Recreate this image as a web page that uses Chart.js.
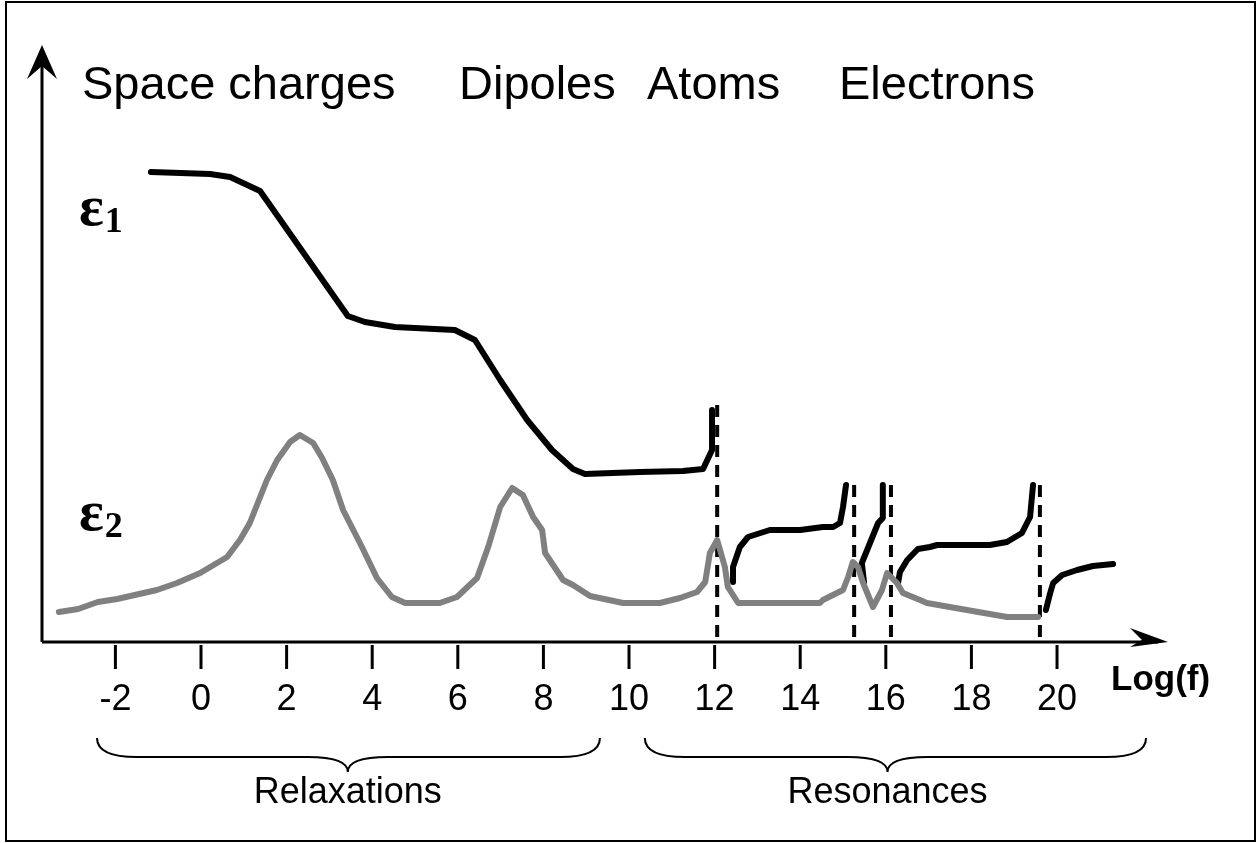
<!DOCTYPE html>
<html>
<head>
<meta charset="utf-8">
<script src="https://cdn.jsdelivr.net/npm/chart.js@4.4.1/dist/chart.umd.min.js"></script>
<style>
  html, body { margin: 0; padding: 0; background: #fff; }
  canvas { display: block; }
</style>
</head>
<body>
<canvas id="chart" width="1260" height="843"></canvas>
<script>
// log(f) and relative amplitude (arbitrary units)
const eps1Relax = [[-1.17, 468], [0.21, 466], [0.68, 463], [1.38, 449], [3.43, 324], [3.83, 318],
  [4.53, 313], [5.93, 310], [6.4, 300], [6.99, 260], [7.62, 220], [8.2, 190], [8.69, 171],
  [8.97, 166], [10.26, 168], [11.26, 169], [11.73, 171], [11.94, 190], [11.94, 230]];
const eps1Ionic = [[12.43, 58], [12.43, 73], [12.59, 93], [12.78, 103], [13.29, 110], [14.0, 110],
  [14.53, 113], [14.77, 113], [14.93, 117], [15.0, 133], [15.07, 155]];
const eps1Elec1 = [[15.49, 58], [15.44, 77], [15.63, 97], [15.82, 117], [15.93, 122], [15.93, 155]];
const eps1Elec2 = [[16.29, 58], [16.33, 68], [16.5, 80], [16.75, 91], [17.03, 93], [17.2, 95],
  [18.43, 95], [18.83, 98], [19.18, 107], [19.37, 123], [19.44, 155]];
const eps1Tail = [[19.74, 30], [19.84, 47], [19.91, 57], [20.12, 65], [20.47, 70], [20.84, 74], [21.31, 76]];

const eps2 = [[-3.32, 28], [-2.87, 31], [-2.41, 38], [-1.96, 41], [-1.03, 50], [-0.56, 57], [-0.02, 67],
  [0.61, 83], [0.91, 100], [1.14, 117], [1.54, 160], [1.78, 180], [2.08, 198], [2.31, 205],
  [2.62, 197], [2.83, 182], [3.08, 160], [3.32, 130], [3.76, 93], [4.11, 62], [4.46, 43],
  [4.77, 37], [5.58, 37], [5.98, 43], [6.45, 62], [6.71, 93], [6.99, 133], [7.27, 152],
  [7.52, 145], [7.76, 123], [7.97, 110], [8.04, 87], [8.46, 60], [8.69, 55], [9.09, 44],
  [9.86, 37], [10.72, 37], [11.19, 42], [11.59, 48], [11.78, 58], [11.89, 87], [12.06, 100],
  [12.24, 73], [12.31, 53], [12.55, 37], [14.46, 37], [14.53, 40], [15.0, 50], [15.12, 63],
  [15.23, 78], [15.35, 73], [15.47, 57], [15.7, 33], [15.91, 50], [16.03, 67], [16.26, 57],
  [16.4, 47], [16.8, 40], [16.96, 37], [18.83, 23], [19.56, 23]];

const resonanceLines = [12.06, 15.26, 16.12, 19.6];
const resonanceTops = [237, 158, 158, 158];

const tickValues = [-2, 0, 2, 4, 6, 8, 10, 12, 14, 16, 18, 20];
const mechanisms = ["Space charges", "Dipoles", "Atoms", "Electrons"];
const groupNames = ["Relaxations", "Resonances"];
const groupFrom = [-2.43, 10.37];
const groupTo = [9.32, 22.08];
const groupMid = [3.43, 16.04];

const toXY = (pts) => pts.map((p) => ({ x: p[0], y: p[1] }));

const solid = (pts, color) => ({
  data: toXY(pts),
  borderColor: color,
  borderWidth: 6,
  pointRadius: 0,
  showLine: true,
  tension: 0,
  borderCapStyle: "round",
  borderJoinStyle: "round",
});

const datasets = [
  solid(eps2, "#808080"),
  solid(eps1Relax, "#000"),
  solid(eps1Ionic, "#000"),
  solid(eps1Elec1, "#000"),
  solid(eps1Elec2, "#000"),
  solid(eps1Tail, "#000"),
];
resonanceLines.forEach((x, i) => {
  datasets.push({
    data: [{ x: x, y: 3 }, { x: x, y: resonanceTops[i] }],
    borderColor: "#000",
    borderWidth: 4,
    borderDash: [12, 8],
    pointRadius: 0,
    showLine: true,
  });
});

// axes, arrows, tick labels, braces and captions
const decorations = {
  id: "decorations",
  afterDraw(chart) {
    const ctx = chart.ctx;
    const xs = chart.scales.x;
    const area = chart.chartArea;
    const axisY = area.bottom + 2;
    ctx.save();

    ctx.strokeStyle = "#000";
    ctx.lineWidth = 2;
    ctx.strokeRect(6, 2, 1249, 839);

    // y axis with arrow
    ctx.lineWidth = 3;
    ctx.beginPath();
    ctx.moveTo(area.left, axisY);
    ctx.lineTo(area.left, 60);
    ctx.stroke();
    ctx.fillStyle = "#000";
    ctx.beginPath();
    ctx.moveTo(area.left, 45);
    ctx.lineTo(area.left - 15, 79);
    ctx.lineTo(area.left, 66);
    ctx.lineTo(area.left + 15, 79);
    ctx.closePath();
    ctx.fill();

    // x axis with arrow
    ctx.beginPath();
    ctx.moveTo(area.left, axisY);
    ctx.lineTo(area.right - 10, axisY);
    ctx.stroke();
    ctx.beginPath();
    ctx.moveTo(area.right, axisY);
    ctx.lineTo(area.right - 38, axisY - 14);
    ctx.lineTo(area.right - 26, axisY - 2);
    ctx.lineTo(area.right - 38, axisY + 5);
    ctx.closePath();
    ctx.fill();

    // ticks and labels
    ctx.font = "36px 'Liberation Sans', Arial, sans-serif";
    ctx.textAlign = "center";
    ctx.textBaseline = "alphabetic";
    tickValues.forEach((v) => {
      const px = xs.getPixelForValue(v);
      ctx.beginPath();
      ctx.moveTo(px, axisY + 3);
      ctx.lineTo(px, axisY + 27);
      ctx.stroke();
      ctx.fillText(String(v), px, 710);
    });

    ctx.font = "bold 35px 'Liberation Sans', Arial, sans-serif";
    ctx.textAlign = "left";
    ctx.fillText("Log(f)", 1111, 690);

    // braces
    ctx.lineWidth = 2;
    groupNames.forEach((name, i) => {
      const x1 = xs.getPixelForValue(groupFrom[i]);
      const x2 = xs.getPixelForValue(groupTo[i]);
      const xm = xs.getPixelForValue(groupMid[i]);
      const top = 738, mid = 757, tip = 772;
      ctx.beginPath();
      ctx.moveTo(x1, top);
      ctx.quadraticCurveTo(x1, mid, x1 + 40, mid);
      ctx.lineTo(xm - 40, mid);
      ctx.quadraticCurveTo(xm, mid, xm, tip);
      ctx.quadraticCurveTo(xm, mid, xm + 40, mid);
      ctx.lineTo(x2 - 40, mid);
      ctx.quadraticCurveTo(x2, mid, x2, top);
      ctx.stroke();
      ctx.font = "36px 'Liberation Sans', Arial, sans-serif";
      ctx.textAlign = "center";
      ctx.fillText(name, xm, 803);
    });

    // mechanism captions
    ctx.font = "47px 'Liberation Sans', Arial, sans-serif";
    ctx.textAlign = "left";
    const capX = [82, 459, 647, 839];
    mechanisms.forEach((m, i) => ctx.fillText(m, capX[i], 99));

    // epsilon labels
    const eps = [["1", 225], ["2", 530]];
    eps.forEach(([sub, base]) => {
      ctx.font = "bold 58px 'Liberation Serif', 'Times New Roman', serif";
      ctx.fillText("\u03b5", 79, base);
      const w = ctx.measureText("\u03b5").width;
      ctx.font = "bold 36px 'Liberation Serif', 'Times New Roman', serif";
      ctx.fillText(sub, 79 + w + 1, base + 7);
    });

    ctx.restore();
  },
};

new Chart(document.getElementById("chart"), {
  type: "scatter",
  data: { datasets: datasets },
  options: {
    responsive: false,
    animation: false,
    devicePixelRatio: 1,
    layout: { padding: { left: 42, right: 92, top: 55, bottom: 203 } },
    scales: {
      x: { type: "linear", min: -3.715, max: 22.593, display: false },
      y: { type: "linear", min: 0, max: 585, display: false },
    },
    plugins: {
      legend: { display: false },
      tooltip: { enabled: false },
    },
  },
  plugins: [decorations],
});
</script>
</body>
</html>
